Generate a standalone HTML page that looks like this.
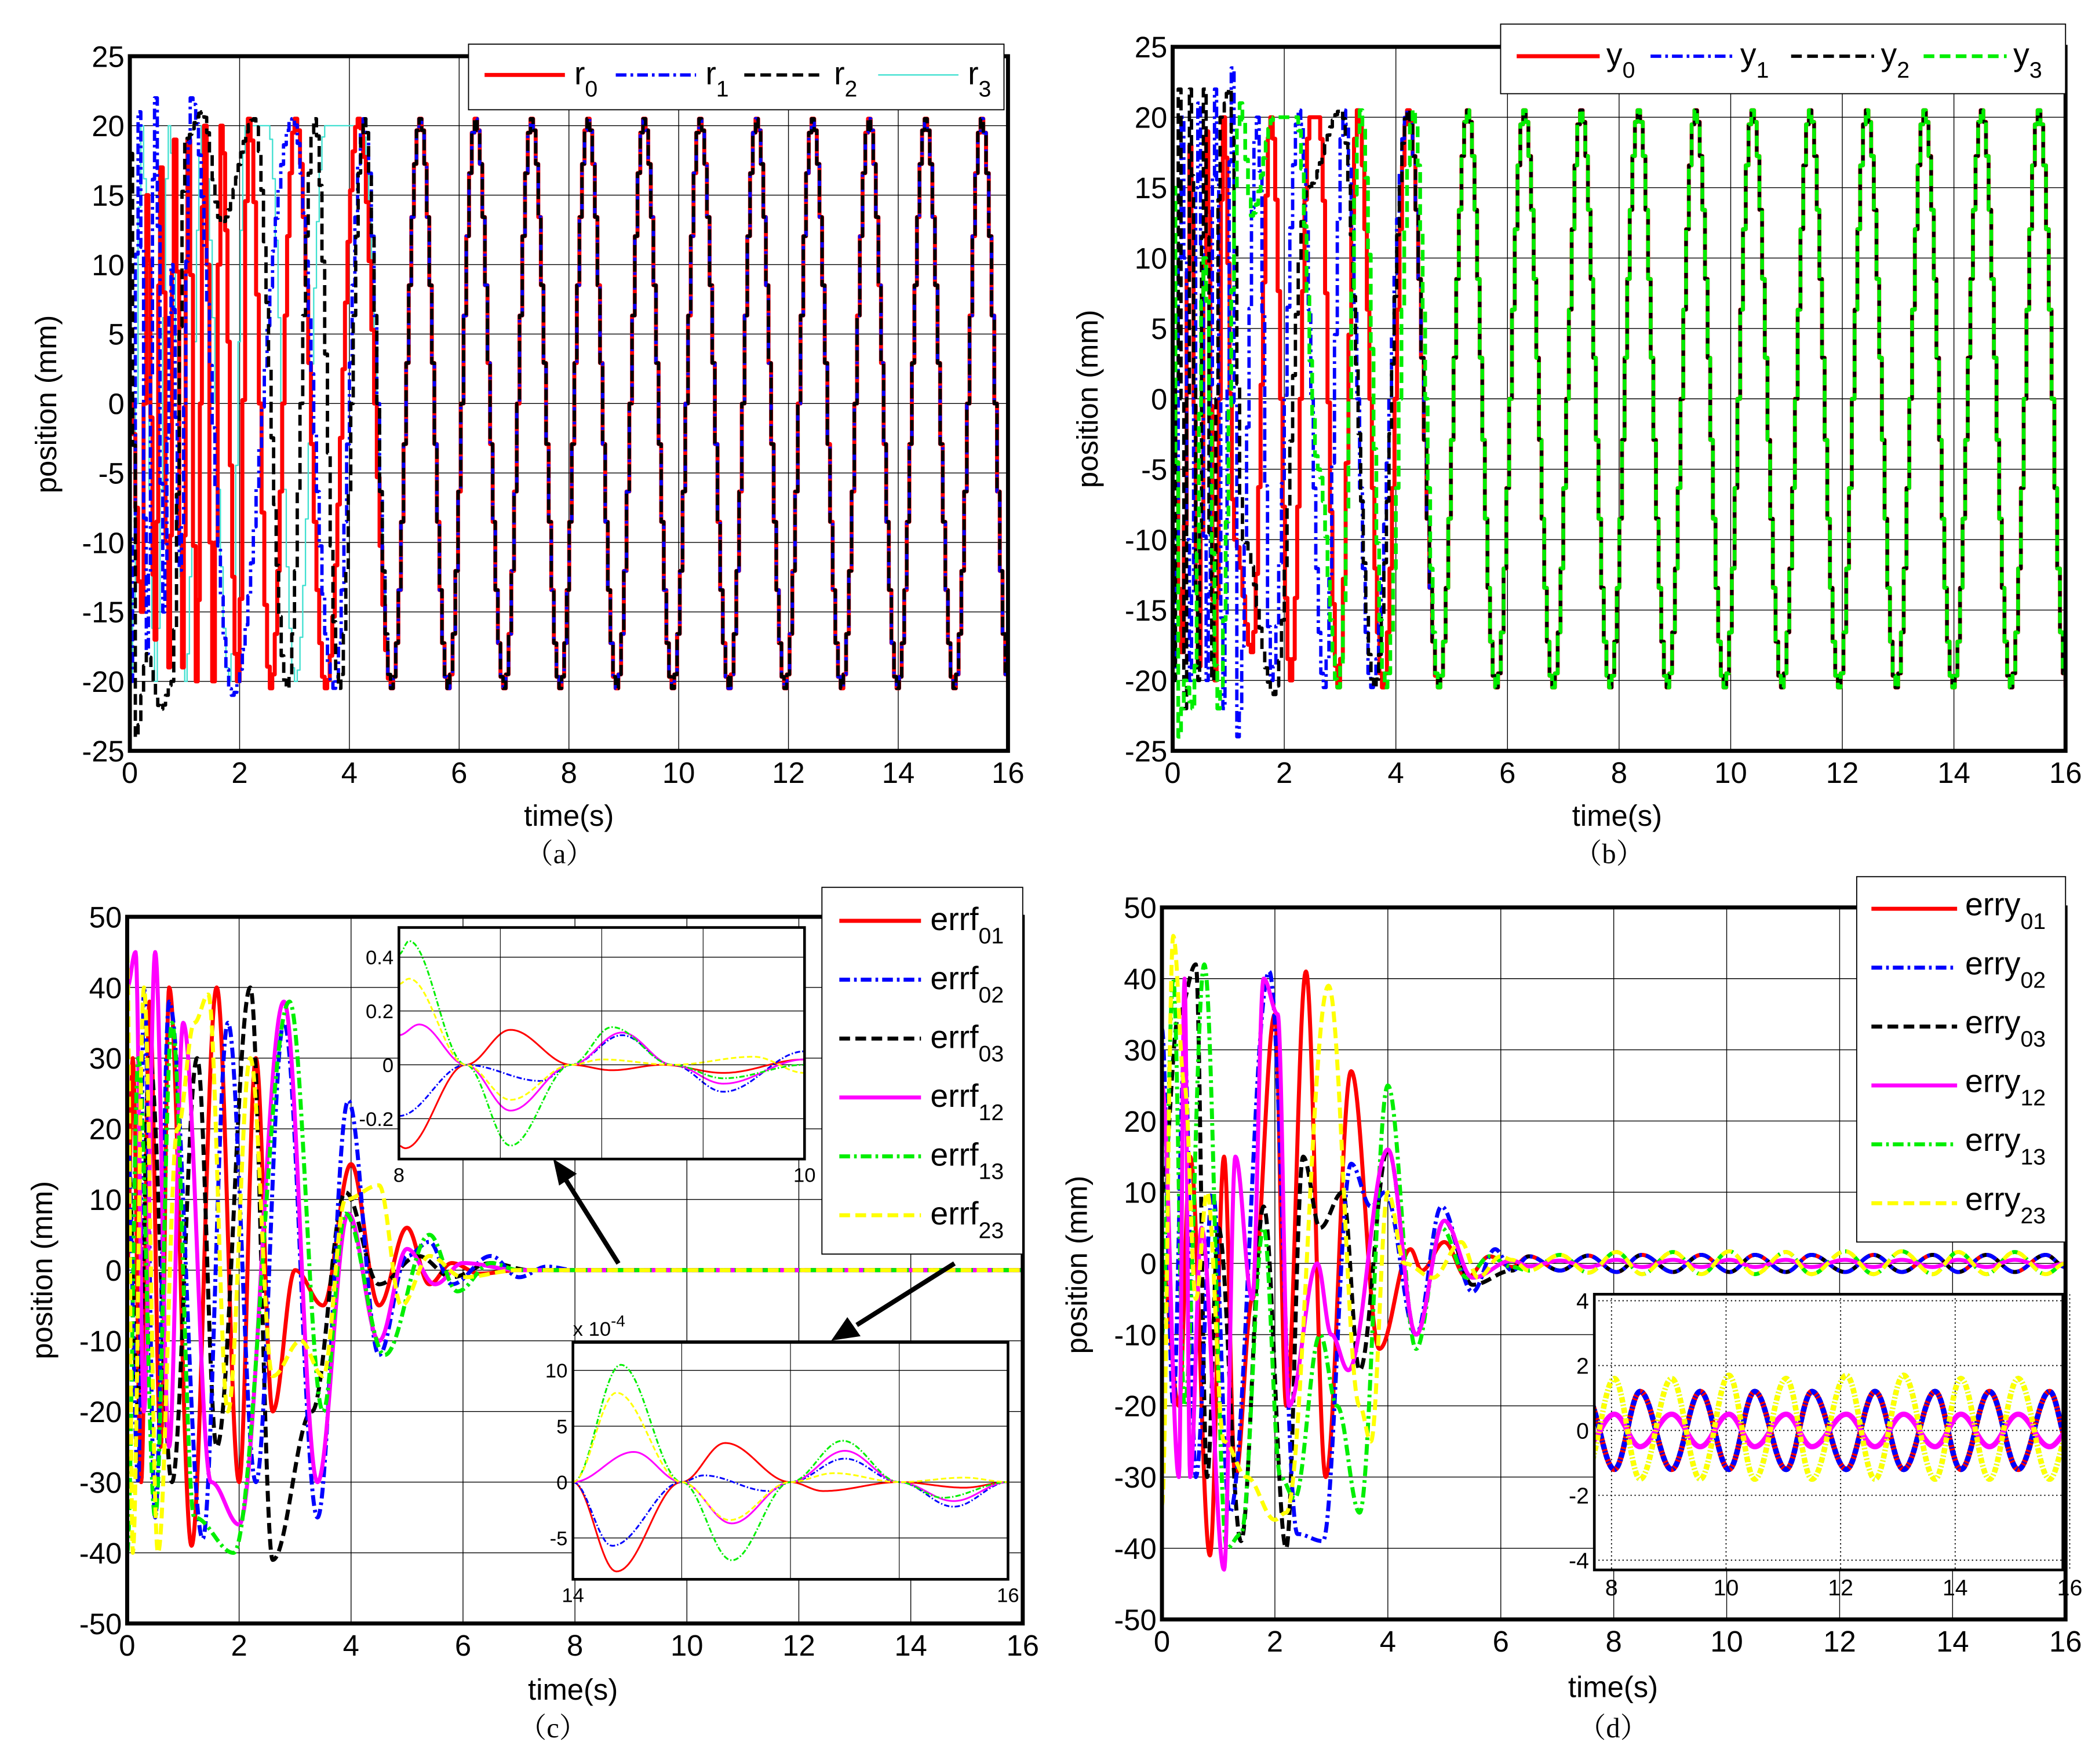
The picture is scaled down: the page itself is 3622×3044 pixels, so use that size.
<!DOCTYPE html>
<html><head><meta charset="utf-8">
<style>
html,body{margin:0;padding:0;background:#fff;}
svg{display:block;}
text{font-family:"Liberation Sans",sans-serif;fill:#000;}
.cap{font-family:"Liberation Serif","Noto Serif CJK SC",serif;}
</style></head>
<body>
<svg id="fig" xmlns="http://www.w3.org/2000/svg" width="3622" height="3044" viewBox="0 0 1568 1318" preserveAspectRatio="none">
<rect x="0" y="0" width="1568" height="1318" fill="#fff"/>
</svg>
<script>
// ---------- DATA ----------
const steadyT = [4.75,5.27,5.78,6.28,6.8,7.3,7.82,8.33,8.85,9.35,9.87,10.37,10.9,11.4,11.92,12.42,12.95,13.45,13.97,14.48,15.0,15.5,16.0];
const steadyV = [-20.5,20.5,-20.5,20.5,-20.5,20.5,-20.5,20.5,-20.5,20.5,-20.5,20.5,-20.5,20.5,-20.5,20.5,-20.5,20.5,-20.5,20.5,-20.5,20.5,-20.5];
const r0T = [0,0.2,0.3,0.45,0.55,0.7,0.8,0.95,1.05,1.2,1.35,1.5,1.65,1.95,2.15,2.55,3.0,3.55,4.15];
const r0V = [0,-15,15,-17,17,-19,19,-19,19,-20,20,-20,20,-20,20.5,-20.5,20.5,-20.5,20.5];
const r1T = [0,0.15,0.3,0.45,0.6,0.75,0.9,1.1,1.85,2.95,3.7,4.25];
const r1V = [-20,21,-18,22,-15,10,-12,22,-21,20.5,-20.5,20.5];
const r2T = [0,0.1,0.3,0.55,0.75,1.0,1.3,1.65,2.25,2.85,3.35,3.8,4.25];
const r2V = [18,-24,-18,-22,-20,19,21,13,20.5,-20.5,20.5,-20.5,20.5];
const r3T = [0,0.2,0.45,0.7,1.0,1.3,1.8,2.1,2.5,3.0,3.55,4.2];
const r3V = [-20,20,-20,20,-20,20,-20,20,20,-20,20,20];
const y0T = [0,0.15,0.3,0.45,0.6,0.75,0.9,1.1,1.4,1.75,2.1,2.45,2.6,2.95,3.3,3.75,4.2];
const y0V = [0,-18,18,-19,19,-20,20,-10,-18,20,-20,20,20,-20.5,20.5,-20.5,20.5];
const y1T = [0,0.15,0.3,0.45,0.6,0.75,0.9,1.05,1.15,1.5,1.75,2.25,2.7,3.05,3.55,4.2];
const y1V = [-20,20,-20,21,-20,22,-22,23.5,-24,20,-20,20.5,-20.5,20.5,-20.5,20.5];
const y2T = [0,0.1,0.2,0.3,0.45,0.55,0.7,0.85,1.0,1.25,1.8,2.4,3.0,3.6,4.2];
const y2V = [-20,22,-22,22,-20,22,-20,20,22,-10,-21,15,20.5,-20.5,20.5];
const y3T = [0,0.1,0.2,0.35,0.55,0.8,1.2,1.4,1.8,2.2,2.6,2.95,3.35,3.8,4.3];
const y3V = [15,-24,-20,-22,10,-22,21,13,20,20,-5,-20.5,20.5,-20.5,20.5];
const e01T = [0,0.1,0.25,0.4,0.6,0.75,1.15,1.6,2.0,2.3,2.6,3.0,3.5,4.0,4.5,5.0,5.4,5.8,6.3,7,16];
const e01V = [0,30,-30,38,-25,40,-39,40,-30,30,-20,0,-5,15,-5,6,-2,1,-0.5,0,0];
const e02T = [0,0.2,0.3,0.5,0.75,1.35,1.8,2.3,2.8,3.4,3.95,4.5,5.0,5.4,5.8,6.5,7,7.5,8,16];
const e02V = [20,-30,40,-35,38,-38,35,-30,35,-35,24,-12,2,4,-2,2,-1,0.5,0,0];
const e03T = [0,0.2,0.4,0.8,1.25,1.6,2.2,2.6,3.3,3.9,4.5,5.2,5.8,6.5,7.2,16];
const e03V = [20,-20,30,-30,30,-25,40,-41,-20,11,-2,2,-1,1,0,0];
const e12T = [0,0.15,0.3,0.5,0.75,1.0,1.5,2.0,2.8,3.4,3.95,4.5,5.0,5.5,6.0,7,16];
const e12V = [40,45,-20,45,-25,35,-30,-36,38,-30,8,-10,3,-2,1,0,0];
const e13T = [0,0.2,0.5,0.8,1.2,1.9,2.9,3.5,3.9,4.6,5.4,5.9,6.5,7,16];
const e13V = [-40,30,-35,35,-35,-40,38,-20,8,-12,5,-3,1,0,0];
const e23T = [0,0.1,0.3,0.55,0.9,1.2,1.45,1.8,2.2,2.6,3.1,3.5,3.9,4.5,4.9,5.4,6.0,7,16];
const e23V = [45,-40,40,-40,20,35,39,-20,30,-15,-10,-15,10,12,-5,2,-1,0,0];
const i1T01 = [8,8.03,8.33,8.55,8.85,9.05,9.3,9.6,10];  const i1V01 = [-0.3,-0.31,0,0.13,0,-0.02,0,-0.03,0.02];
const i1T02 = [8,8.33,8.7,8.85,9.1,9.35,9.6,10];        const i1V02 = [-0.19,0,-0.06,0,0.11,0,-0.1,0.05];
const i1T12 = [8,8.1,8.33,8.55,8.85,9.1,9.35,9.6,10];   const i1V12 = [0.11,0.15,0,-0.17,0,0.12,0,-0.07,0.02];
const i1T13 = [8,8.05,8.33,8.55,8.85,9.05,9.35,9.6,10]; const i1V13 = [0.41,0.46,0,-0.3,0,0.14,0,-0.05,0];
const i1T23 = [8,8.05,8.33,8.55,8.85,9.0,9.35,9.75,10]; const i1V23 = [0.3,0.32,0,-0.13,0,0.02,0,0.03,-0.03];
const i2T01 = [14,14.2,14.5,14.7,15,15.15,15.5,15.8,16];  const i2V01 = [0,-8,0,3.5,0,-0.8,0,-0.5,0];
const i2T02 = [14,14.18,14.5,14.6,14.9,15,15.25,15.5,15.75,16]; const i2V02 = [0,-5.7,0,0.6,-0.8,0,2.1,0,-2.2,0];
const i2T12 = [14,14.28,14.5,14.73,15,15.25,15.5,15.75,16]; const i2V12 = [0,2.7,0,-3.7,0,2.8,0,-1.7,0];
const i2T13 = [14,14.22,14.5,14.73,15,15.24,15.5,15.7,16]; const i2V13 = [0,10.5,0,-7,0,3.7,0,-1.4,0];
const i2T23 = [14,14.2,14.5,14.72,15,15.2,15.5,15.8,16];  const i2V23 = [0,8,0,-3.4,0,0.8,0,0.4,0];
const dSteadyT = [6.5,7.05,7.55,8.05,8.5,9.05,9.55,10.05,10.5,11.05,11.5,12.1,12.6,13.1,13.65,14.1,14.6,15.1,15.65,16];
const dBlueS = [1,-1,1.1,-1.2,1.2,-1.2,1.2,-1.2,1.2,-1.2,1.2,-1.2,1.2,-1.2,1.2,-1.2,1.2,-1.2,1.2,-0.5];
const dYellowS = [-1,1.2,-1.3,1.6,-1.5,1.6,-1.5,1.7,-1.5,1.6,-1.5,1.7,-1.5,1.7,-1.5,1.6,-1.5,1.6,-1.5,0];
const dMagS = [-0.4,0.4,-0.5,0.5,-0.5,0.5,-0.5,0.5,-0.5,0.5,-0.5,0.5,-0.5,0.5,-0.5,0.5,-0.5,0.5,-0.5,0];
const d01T = [0,0.3,0.5,0.85,1.1,1.3,1.6,2.0,2.2,2.55,2.9,3.35,3.85,4.4,4.6,5.0,5.4,5.8,6.2];
const d01V = [0,-20,15,-41,15,-30,-5,35,-20,41,-30,27,-12,2,-1,3,-2,1,-0.5];
const d02T = [0,0.2,0.4,0.6,0.9,1.2,1.9,2.4,2.85,3.35,3.7,3.95,4.5,4.95,5.5,5.9,6.2];
const d02V = [33,-20,30,-30,10,-35,41,-38,-39,14,8,10,-10,8,-4,2,-1];
const d03T = [0,0.3,0.6,0.8,1.0,1.4,1.8,2.2,2.5,2.8,3.2,3.5,4.0,4.5,5.0,5.5,6.2];
const d03V = [10,35,42,-30,5,-39,8,-40,15,5,10,-15,16,-10,6,-3,-1];
const d12T = [0,0.3,0.4,0.5,0.7,1.1,1.3,1.6,1.8,2.05,2.25,2.75,3.0,3.3,4.0,4.5,5.0,5.5,6.2];
const d12V = [25,-30,40,-30,5,-43,15,-5,40,35,-20,0,-10,-15,16,-10,6,-2,0.4];
const d13T = [0,0.2,0.4,0.75,1.15,1.4,1.8,2.1,2.35,2.8,3.1,3.5,4.0,4.5,4.95,5.4,5.8,6.2];
const d13V = [-10,40,-20,42,-40,-38,5,-30,-33,-10,-20,-35,25,-12,5,-2,1,-0.5];
const d23T = [0,0.2,0.4,0.6,0.8,1.1,1.5,2.0,2.2,2.95,3.5,3.7,4.0,4.3,4.8,5.3,5.6,6.0,6.2];
const d23V = [-34,46,25,-5,10,-25,-30,-36,-35,39,-20,-25,10,0,-2,3,-2,1,0.5];

// ---------- RENDER ----------
const NS = 'http://www.w3.org/2000/svg';
const fig = document.getElementById('fig');
function mk(tag, attrs, parent){ const e=document.createElementNS(NS,tag); for(const k in attrs) e.setAttribute(k,attrs[k]); (parent||fig).appendChild(e); return e; }
function txt(s, x, y, size, anchor, parent, cls){ const t=mk('text',{x:x,y:y,'font-size':size,'text-anchor':anchor||'middle'},parent); if(cls) t.setAttribute('class',cls); t.textContent=s; return t; }
function lin(d0,d1,p0,p1){ return v => p0+(v-d0)*(p1-p0)/(d1-d0); }
let clipId=0;
function interp(ts, vs, dt){ const pts=[]; for(let i=0;i<ts.length-1;i++){ const a=ts[i],b=ts[i+1]; const n=Math.max(1,Math.ceil((b-a)/dt)); for(let k=0;k<n;k++){ const u=k/n; const w=(1-Math.cos(Math.PI*u))/2; pts.push([a+(b-a)*u, vs[i]+(vs[i+1]-vs[i])*w]); } } pts.push([ts[ts.length-1], vs[vs.length-1]]); return pts; }
function series(g, sx, sy, ts, vs, color, dash, w, hold){
  const pts=interp(ts,vs,hold?0.05:0.01); let d='';
  pts.forEach((p,i)=>{ const X=sx(p[0]).toFixed(2), Y=sy(p[1]).toFixed(2);
    if(i===0) d+='M'+X+' '+Y; else if(hold){ d+='H'+X+'V'+Y; } else d+='L'+X+' '+Y; });
  const path=mk('path',{d:d,fill:'none',stroke:color,'stroke-width':w,'stroke-linejoin':'round'},g);
  if(dash) path.setAttribute('stroke-dasharray',dash);
  
  
  return path;
}
function axes(name, x0,x1,y0,y1, xd, yd, xticks, yticks, opts){
  const g=mk('g',{});  
  const sx=lin(xd[0],xd[1],x0,x1), sy=lin(yd[0],yd[1],y1,y0);
  mk('rect',{x:x0,y:y0,width:x1-x0,height:y1-y0,fill:'#fff'},g);
  const gg=mk('g',{stroke:opts.gridColor||'#000','stroke-width':opts.gridW||0.6},g);
  if(opts.dotted) gg.setAttribute('stroke-dasharray','1,2');
  xticks.forEach(v=>{ mk('line',{x1:sx(v),x2:sx(v),y1:y0,y2:y1},gg); });
  yticks.forEach(v=>{ mk('line',{x1:x0,x2:x1,y1:sy(v),y2:sy(v)},gg); });
  const fs=opts.fs||22;
  xticks.forEach((v,i)=>{ const lbl=String(v); const t=txt(lbl,sx(v),y1+fs+2,fs,'middle',g);   });
  yticks.forEach((v,i)=>{ const lbl=String(v); const t=txt(lbl,x0-4,sy(v)+fs*0.36,fs,'end',g);   });
  const cid='c'+(clipId++); const cp=mk('clipPath',{id:cid},g); mk('rect',{x:x0,y:y0,width:x1-x0,height:y1-y0},cp);
  const plot=mk('g',{'clip-path':'url(#'+cid+')'},g);
   
  return {g,sx,sy,plot,frame:()=>mk('rect',{x:x0,y:y0,width:x1-x0,height:y1-y0,fill:'none',stroke:'#000','stroke-width':opts.frameW||3},g)};
}
const RED='#ff0000',BLUE='#0000ff',BLK='#000',CYAN='#40e0d0',GRN='#00ee00',MAG='#ff00ff',YEL='#ffff00';
const DD='8,3,2,3', DS='8,4';
const xt=[0,2,4,6,8,10,12,14,16];

(function(){
  const A=axes('panel-a',97,753,42,561,[0,16],[-25,25],xt,[-25,-20,-15,-10,-5,0,5,10,15,20,25],{});
  const S=(t,v)=>[t.concat(steadyT),v.concat(steadyV)];
  let s;
  s=S(r3T,r3V); series(A.plot,A.sx,A.sy,s[0],s[1],CYAN,null,1,true);
  s=S(r0T,r0V); series(A.plot,A.sx,A.sy,s[0],s[1],RED,null,3,true);
  s=S(r1T,r1V); series(A.plot,A.sx,A.sy,s[0],s[1],BLUE,DD,2.5,true);
  s=S(r2T,r2V); series(A.plot,A.sx,A.sy,s[0],s[1],BLK,DS,2.5,true);
  A.frame();
  const L=mk('g',{});  
  mk('rect',{x:350,y:33,width:400,height:49,fill:'#fff',stroke:'#000','stroke-width':0.8},L);
  [[362,RED,null,3,'r','0'],[460,BLUE,DD,2.5,'r','1'],[556,BLK,DS,2.5,'r','2'],[656,CYAN,null,1,'r','3']].forEach((e,i)=>{
    const l=mk('line',{x1:e[0],x2:e[0]+60,y1:56,y2:56,stroke:e[1],'stroke-width':e[3]},L); if(e[2]) l.setAttribute('stroke-dasharray',e[2]);
    const t=mk('text',{x:e[0]+67,y:63,'font-size':24},L);  
    t.innerHTML=e[4]+'<tspan dy="9" font-size="17">'+e[5]+'</tspan>'; });
  txt('time(s)',425,617,22,'middle');
  const yl=txt('position (mm)',0,0,22,'middle'); yl.setAttribute('transform','translate(42,302) rotate(-90)');
  
  txt('（a）',418,645,21,'middle',null,'cap');
})();
(function(){
  const A=axes('panel-b',876,1543,35,561,[0,16],[-25,25],xt,[-25,-20,-15,-10,-5,0,5,10,15,20,25],{});
  const S=(t,v)=>[t.concat(steadyT),v.concat(steadyV)];
  let s;
  s=S(y0T,y0V); series(A.plot,A.sx,A.sy,s[0],s[1],RED,null,3,true);
  s=S(y1T,y1V); series(A.plot,A.sx,A.sy,s[0],s[1],BLUE,DD,2.5,true);
  s=S(y2T,y2V); series(A.plot,A.sx,A.sy,s[0],s[1],BLK,DS,2.5,true);
  s=S(y3T,y3V); series(A.plot,A.sx,A.sy,s[0],s[1],GRN,DS,2.8,true);
  A.frame();
  const L=mk('g',{});  
  mk('rect',{x:1121,y:18,width:422,height:52,fill:'#fff',stroke:'#000','stroke-width':0.8},L);
  [[1133,RED,null,3,'y','0'],[1233,BLUE,DD,2.5,'y','1'],[1338,BLK,DS,2.5,'y','2'],[1437,GRN,DS,2.8,'y','3']].forEach(e=>{
    const l=mk('line',{x1:e[0],x2:e[0]+62,y1:42,y2:42,stroke:e[1],'stroke-width':e[3]},L); if(e[2]) l.setAttribute('stroke-dasharray',e[2]);
    const t=mk('text',{x:e[0]+67,y:49,'font-size':24},L);  
    t.innerHTML=e[4]+'<tspan dy="9" font-size="17">'+e[5]+'</tspan>'; });
  txt('time(s)',1208,617,22,'middle');
  const yl=txt('position (mm)',0,0,22,'middle'); yl.setAttribute('transform','translate(820,298) rotate(-90)');
  
  txt('（b）',1202,645,21,'middle',null,'cap');
})();
(function(){
  const A=axes('panel-c',95,764,685,1213,[0,16],[-50,50],xt,[-50,-40,-30,-20,-10,0,10,20,30,40,50],{});
  series(A.plot,A.sx,A.sy,e01T,e01V,RED,null,3,false);
  series(A.plot,A.sx,A.sy,e03T,e03V,BLK,DS,3,false);
  series(A.plot,A.sx,A.sy,e02T,e02V,BLUE,DD,3,false);
  series(A.plot,A.sx,A.sy,e12T,e12V,MAG,null,3,false);
  series(A.plot,A.sx,A.sy,e13T,e13V,GRN,DD,3,false);
  series(A.plot,A.sx,A.sy,e23T,e23V,YEL,DS,3,false);
  A.frame();
  const L=mk('g',{});  
  mk('rect',{x:614,y:663,width:150,height:274,fill:'#fff',stroke:'#000','stroke-width':0.8},L);
  [[RED,null,'01'],[BLUE,DD,'02'],[BLK,DS,'03'],[MAG,null,'12'],[GRN,DD,'13'],[YEL,DS,'23']].forEach((e,i)=>{
    const y=688+i*44;
    const l=mk('line',{x1:627,x2:688,y1:y,y2:y,stroke:e[0],'stroke-width':3},L); if(e[1]) l.setAttribute('stroke-dasharray',e[1]);
    const t=mk('text',{x:695,y:y+7,'font-size':24},L);  
    t.innerHTML='errf<tspan dy="10" font-size="17">'+e[2]+'</tspan>'; });
  const ar=mk('g',{stroke:'#000','stroke-width':3.5,fill:'#000'});  
  mk('line',{x1:462,y1:944,x2:423,y2:882},ar); mk('polygon',{points:'414,867 430,877 418,885','stroke-width':1},ar);
  mk('line',{x1:713,y1:944,x2:640,y2:990},ar); mk('polygon',{points:'622,1001 633,985 642,998','stroke-width':1},ar);
  const I=axes('inset-c1',298,601,693,866,[8,10],[-0.35,0.51],[8,10],[-0.2,0,0.2,0.4],{fs:15,frameW:2});
  [8.5,9,9.5].forEach(v=>mk('line',{x1:I.sx(v),x2:I.sx(v),y1:693,y2:866,stroke:'#000','stroke-width':0.5},I.g));
  series(I.plot,I.sx,I.sy,i1T01,i1V01,RED,null,1.3,false);
  series(I.plot,I.sx,I.sy,i1T02,i1V02,BLUE,'4,1.5,1,1.5',1.3,false);
  series(I.plot,I.sx,I.sy,i1T12,i1V12,MAG,null,1.3,false);
  series(I.plot,I.sx,I.sy,i1T13,i1V13,GRN,'4,1.5,1,1.5',1.3,false);
  series(I.plot,I.sx,I.sy,i1T23,i1V23,YEL,'4,2',1.3,false);
  I.frame();
  const J=axes('inset-c2',428,753,1003,1180,[14,16],[-8.7,12.5],[14,16],[-5,0,5,10],{fs:15,frameW:2});
  [14.5,15,15.5].forEach(v=>mk('line',{x1:J.sx(v),x2:J.sx(v),y1:1003,y2:1180,stroke:'#000','stroke-width':0.5},J.g));
  series(J.plot,J.sx,J.sy,i2T01,i2V01,RED,null,1.3,false);
  series(J.plot,J.sx,J.sy,i2T02,i2V02,BLUE,'4,1.5,1,1.5',1.3,false);
  series(J.plot,J.sx,J.sy,i2T12,i2V12,MAG,null,1.3,false);
  series(J.plot,J.sx,J.sy,i2T13,i2V13,GRN,'4,1.5,1,1.5',1.3,false);
  series(J.plot,J.sx,J.sy,i2T23,i2V23,YEL,'4,2',1.3,false);
  J.frame();
  const ex=mk('text',{x:428,y:998,'font-size':15});  
  ex.innerHTML='x 10<tspan dy="-7" font-size="12">-4</tspan>';
  txt('time(s)',428,1270,22,'middle');
  const yl=txt('position (mm)',0,0,22,'middle'); yl.setAttribute('transform','translate(39,949) rotate(-90)');
  
  txt('（c）',413,1298,21,'middle',null,'cap');
})();
(function(){
  const A=axes('panel-d',868,1543,678,1210,[0,16],[-50,50],xt,[-50,-40,-30,-20,-10,0,10,20,30,40,50],{});
  const cat=(t,v,s)=>[t.concat(dSteadyT),v.concat(s)];
  let s;
  const list=[[d01T,d01V,dBlueS,RED,null],[d03T,d03V,dBlueS,BLK,DS],[d02T,d02V,dBlueS,BLUE,DD],[d13T,d13V,dYellowS,GRN,DD],[d12T,d12V,dMagS,MAG,null],[d23T,d23V,dYellowS,YEL,DS]];
  list.forEach(e=>{ s=cat(e[0],e[1],e[2]); series(A.plot,A.sx,A.sy,s[0],s[1],e[3],e[4],3,false); });
  A.frame();
  const L=mk('g',{});  
  mk('rect',{x:1387,y:655,width:156,height:273,fill:'#fff',stroke:'#000','stroke-width':0.8},L);
  [[RED,null,'01'],[BLUE,DD,'02'],[BLK,DS,'03'],[MAG,null,'12'],[GRN,DD,'13'],[YEL,DS,'23']].forEach((e,i)=>{
    const y=679+i*44;
    const l=mk('line',{x1:1398,x2:1462,y1:y,y2:y,stroke:e[0],'stroke-width':3},L); if(e[1]) l.setAttribute('stroke-dasharray',e[1]);
    const t=mk('text',{x:1468,y:y+5,'font-size':24},L);  
    t.innerHTML='erry<tspan dy="10" font-size="17">'+e[2]+'</tspan>'; });
  const I=axes('inset-d',1191,1541,967,1173,[7.7,15.88],[-4.3,4.2],[8,10,12,14,16],[-4,-2,0,2,4],{fs:17,frameW:2,dotted:true,gridW:0.8});
  list.forEach(e=>{ series(I.plot,I.sx,I.sy,dSteadyT,e[2],e[3],e[4]?'4,1.5,1,1.5':null,4,false); });
  I.frame();
  txt('time(s)',1205,1268,22,'middle');
  const yl=txt('position (mm)',0,0,22,'middle'); yl.setAttribute('transform','translate(812,945) rotate(-90)');
  
  txt('（d）',1205,1298,21,'middle',null,'cap');
})();
</script>
</body></html>
